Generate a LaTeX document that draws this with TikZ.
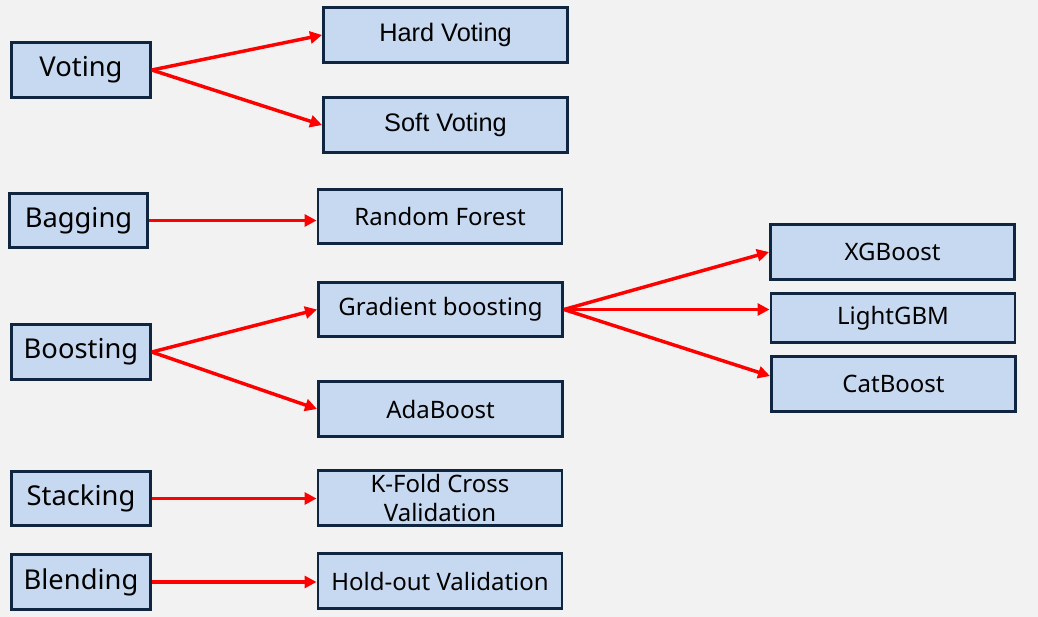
\documentclass[tikz,border=0pt]{standalone}
\usepackage{fontspec}
\setmainfont{Noto Sans}
\newfontfamily\arialfont{Liberation Sans}
\usepackage{xcolor}
\usepackage{tikz}
\usetikzlibrary{arrows.meta}

\definecolor{bgfill}{HTML}{F2F2F2}
\definecolor{boxfill}{HTML}{C6D9F0}
\definecolor{boxline}{HTML}{10253F}

\begin{document}
\begin{tikzpicture}[
  x=0.75pt, y=-0.75pt,
  >={Triangle[length=9pt,width=9pt]},
  method/.style={draw=boxline, line width=2.2pt, fill=boxfill, minimum width=104pt, minimum height=41pt, inner sep=0pt, align=center, font=\fontsize{20.5}{24}\selectfont},
  model/.style={method, minimum width=183pt, font=\fontsize{18}{21.5}\selectfont},
  link/.style={->, red, line width=2.6pt}
]
\fill[bgfill] (0,0) rectangle (1038,617);
\useasboundingbox (0,0) rectangle (1038,617);

% ensemble methods
\node[method] (voting) at (81,70) {Voting};
\node[method] (bagging) at (78.5,220.5) {Bagging};
\node[method] (boosting) at (81,352) {Boosting};
\node[method] (stacking) at (81,498.5) {Stacking};
\node[method] (blending) at (81,582) {Blending};

% models
\node[model, font=\arialfont\fontsize{19}{22}\selectfont] (hard) at (445.5,35) {Hard Voting};
\node[model, font=\arialfont\fontsize{19}{22}\selectfont] (soft) at (445.5,125) {Soft Voting};
\node[model] (forest) at (440,216.5) {Random Forest};
\node[model] (gradient) at (440.5,309.5) {Gradient boosting};
\node[model] (ada) at (440.5,409) {AdaBoost};
\node[model] (kfold) at (440,498) {K-Fold Cross\\Validation};
\node[model] (holdout) at (440,581) {Hold-out Validation};

% boosting libraries
\node[model] (xgb) at (892.5,252) {XGBoost};
\node[model, minimum height=37pt] (lgbm) at (893,318) {LightGBM};
\node[model] (cat) at (893.5,384) {CatBoost};

\draw[link] (voting.east) -- (hard.west);
\draw[link] (voting.east) -- (soft.west);
\draw[link] (bagging.east) -- (bagging.east -| forest.west);
\draw[link] (boosting.east) -- (gradient.west);
\draw[link] (boosting.east) -- (ada.west);
\draw[link] (gradient.east) -- (xgb.west);
\draw[link] (gradient.east) -- (gradient.east -| lgbm.west);
\draw[link] (gradient.east) -- ([yshift=6pt]cat.west);
\draw[link] (stacking.east) -- (stacking.east -| kfold.west);
\draw[link] (blending.east) -- (blending.east -| holdout.west);
\end{tikzpicture}
\end{document}
